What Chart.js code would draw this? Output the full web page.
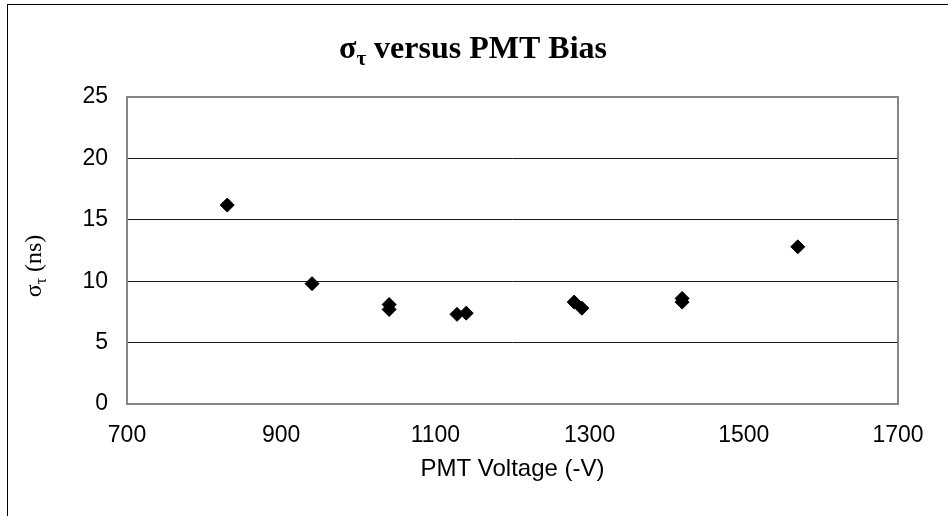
<!DOCTYPE html>
<html>
<head>
<meta charset="utf-8">
<script src="https://cdn.jsdelivr.net/npm/chart.js@4.4.0/dist/chart.umd.min.js"></script>
<style>
  html, body { margin: 0; padding: 0; background: #fff; }
  #wrap { width: 948px; height: 516px; }
</style>
</head>
<body>
<div id="wrap"><canvas id="chartCanvas" width="948" height="516"></canvas></div>
<script>
// PMT bias (plotted as positive volts) and timing spread sigma_tau in ns
const pmtVoltage = [830, 940, 1040, 1040, 1128, 1140, 1280, 1290, 1420, 1420, 1570];
const sigmaTau = [16.2, 9.8, 8.1, 7.7, 7.3, 7.4, 8.3, 7.8, 8.6, 8.3, 12.8];
const xTicks = [700, 900, 1100, 1300, 1500, 1700];
const yTicks = [0, 5, 10, 15, 20, 25];

const SANS = "'Liberation Sans', Arial, sans-serif";
const SERIF = "'Liberation Serif', 'Times New Roman', serif";

// Draw text made of pieces, some of them subscripted, centred on (0,0) of the current transform
function drawPieces(ctx, pieces, size, weight) {
    let total = 0;
    pieces.forEach(p => {
        const s = p.sub ? size * 0.66 : size;
        ctx.font = weight + ' ' + s + 'px ' + SERIF;
        p.w = ctx.measureText(p.text).width;
        total += p.w;
    });
    let x = -total / 2;
    ctx.textBaseline = 'alphabetic';
    ctx.textAlign = 'left';
    pieces.forEach(p => {
        const s = p.sub ? size * 0.66 : size;
        ctx.font = weight + ' ' + s + 'px ' + SERIF;
        ctx.fillText(p.text, x, p.sub ? size * 0.22 : 0);
        x += p.w;
    });
}

const decorPlugin = {
    id: 'decor',
    beforeDraw(chart) {
        const ctx = chart.ctx;
        ctx.save();
        ctx.fillStyle = '#fff';
        ctx.fillRect(0, 0, chart.width, chart.height);
        // outer chart border, cut off on right and bottom like the source image
        ctx.strokeStyle = '#000';
        ctx.lineWidth = 1;
        ctx.strokeRect(7.5, 4.5, chart.width + 20, chart.height + 20);
        ctx.restore();
    },
    afterDraw(chart) {
        const ctx = chart.ctx;
        const a = chart.chartArea;

        // plot area frame
        ctx.save();
        ctx.strokeStyle = '#868686';
        ctx.lineWidth = 2;
        ctx.strokeRect(a.left, a.top, a.right - a.left, a.bottom - a.top);
        ctx.restore();

        // chart title with subscript tau
        ctx.save();
        ctx.fillStyle = '#000';
        ctx.translate(473, 58);
        drawPieces(ctx, [{text: 'σ'}, {text: 'τ', sub: true}, {text: ' versus PMT Bias'}], 32, 'bold');
        ctx.restore();

        // y axis title
        ctx.save();
        ctx.fillStyle = '#000';
        ctx.translate(41, 266);
        ctx.rotate(-Math.PI / 2);
        drawPieces(ctx, [{text: 'σ'}, {text: 'τ', sub: true}, {text: ' (ns)'}], 24, 'normal');
        ctx.restore();
    }
};

const ctx = document.getElementById('chartCanvas').getContext('2d');
const sigmaChart = new Chart(ctx, {
    type: 'scatter',
    data: {
        datasets: [{
            label: 'sigma_tau',
            data: pmtVoltage.map((v, i) => ({x: v, y: sigmaTau[i]})),
            pointStyle: 'rectRot',
            pointRadius: 7,
            pointHoverRadius: 7,
            backgroundColor: '#000',
            borderColor: '#000',
            borderWidth: 1,
            showLine: false
        }]
    },
    options: {
        responsive: false,
        animation: false,
        devicePixelRatio: 1,
        layout: {
            padding: {top: 97, right: 50, left: 0, bottom: 0}
        },
        plugins: {
            legend: {display: false},
            tooltip: {enabled: false},
            title: {display: false}
        },
        scales: {
            x: {
                type: 'linear',
                min: 700,
                max: 1700,
                afterBuildTicks: s => { s.ticks = xTicks.map(v => ({value: v})); },
                afterFit: s => { s.height = 112; },
                grid: {display: false, drawTicks: false},
                border: {display: false},
                ticks: {
                    color: '#000',
                    padding: 18,
                    maxRotation: 0,
                    callback: v => String(v),
                    font: {family: SANS, size: 23}
                },
                title: {
                    display: true,
                    text: 'PMT Voltage (-V)',
                    color: '#000',
                    font: {family: SANS, size: 24},
                    padding: {top: 0, bottom: 32}
                }
            },
            y: {
                min: 0,
                max: 25,
                afterBuildTicks: s => { s.ticks = yTicks.map(v => ({value: v})); },
                afterFit: s => { s.width = 127; },
                grid: {color: '#1a1a1a', lineWidth: 1, drawTicks: false},
                border: {display: false},
                ticks: {
                    color: '#000',
                    padding: 19,
                    callback: v => String(v),
                    font: {family: SANS, size: 23}
                }
            }
        }
    },
    plugins: [decorPlugin]
});
</script>
</body>
</html>
